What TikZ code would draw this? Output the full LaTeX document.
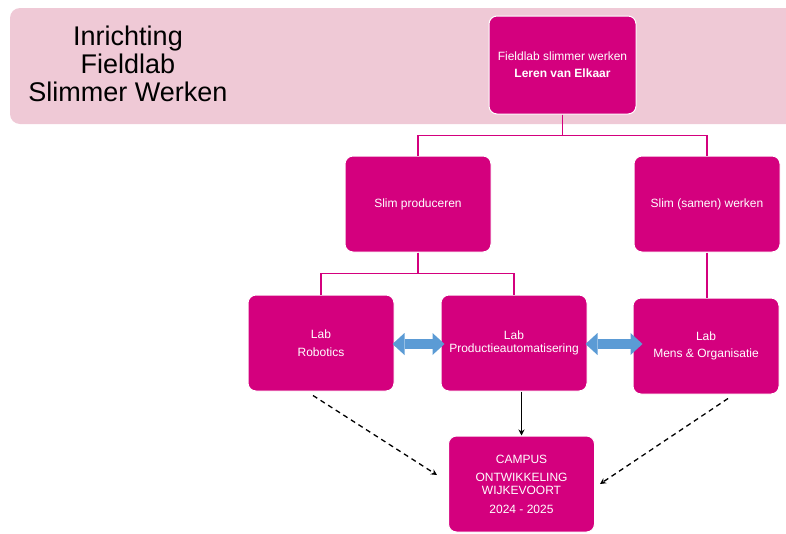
\documentclass[tikz,border=0pt]{standalone}
\usepackage{fontspec}
\setmainfont{Liberation Sans}
\usepackage{tikz}
\usetikzlibrary{arrows.meta}
\usetikzlibrary{calc}
\usetikzlibrary{positioning}

\definecolor{magentabox}{RGB}{212,0,126}
\definecolor{bannerpink}{RGB}{239,201,214}
\definecolor{arrowblue}{RGB}{91,155,213}

\tikzset{
  labbox/.style={fill=magentabox, draw=white, line width=1pt, rounded corners=8pt,
    minimum width=146pt, minimum height=96pt, text=white, align=center,
    font=\fontsize{12}{13}\selectfont},
  tree/.style={draw=magentabox, line width=1.4pt},
  pijl/.style={-{Stealth[length=6pt,width=6pt]}, line width=1.3pt},
  stippel/.style={pijl, dash pattern=on 5pt off 4pt},
  wissel/.style={arrowblue, line width=10pt,
    {Triangle[width=22pt,length=12pt,line width=0pt]}-{Triangle[width=22pt,length=12pt,line width=0pt]}}
}

\begin{document}
\begin{tikzpicture}[x=1pt,y=-1pt]
  \useasboundingbox (0,0) rectangle (786,533);
  % banner bovenaan
  \fill[bannerpink, rounded corners=10pt] (10,8) rectangle (800,124);
  \node[align=center, font=\fontsize{27}{28}\selectfont] (titel) at (128,64)
    {Inrichting\\Fieldlab\\Slimmer Werken};

  % boxen
  \node[labbox, minimum width=147pt, minimum height=98pt] (fieldlab) at (562.5,65)
    {Fieldlab slimmer werken\\[4pt]\textbf{Leren van Elkaar}};
  \node[labbox] (slimprod) at (418,204) {Slim produceren};
  \node[labbox] (slimsamen) at (707,204) {Slim (samen) werken};
  \node[labbox] (robotics) at (321,343) {Lab\\[5pt]Robotics};
  \node[labbox] (productie) at (514,343) {Lab\\Productieautomatisering};
  \node[labbox] (mens) at (706,346) {Lab\\[4pt]Mens \& Organisatie};
  \node[labbox] (campus) at (521.5,484)
    {CAMPUS\\[5pt]ONTWIKKELING\\WIJKEVOORT\\[6pt]2024 - 2025};

  % organigram lijnen
  \draw[tree] (fieldlab.south) -- ++(0,21) -| (slimprod.north);
  \draw[tree] (fieldlab.south) -- ++(0,21) -| (slimsamen.north);
  \draw[tree] (slimprod.south) -- ++(0,21) -| (robotics.north);
  \draw[tree] (slimprod.south) -- ++(0,21) -| (productie.north);
  \draw[tree] (slimsamen.south) -- (slimsamen.south |- mens.north);

  % blauwe dubbele pijlen
  \draw[wissel] ($(robotics.east)+(-2,1)$) -- ($(productie.west)+(4,1)$);
  \draw[wissel] ($(productie.east)+(-2,1)$) -- ($(mens.west)+(10,-2)$);

  % pijlen naar campus
  \draw[pijl] (campus.north |- productie.south) -- (campus.north);
  \draw[stippel] ($(robotics.south)+(-8,4)$) -- ($(campus.west)+(-11,-9)$);
  \draw[stippel] ($(mens.south)+(22,4)$) -- ($(campus.east)+(5,0)$);
\end{tikzpicture}
\end{document}
